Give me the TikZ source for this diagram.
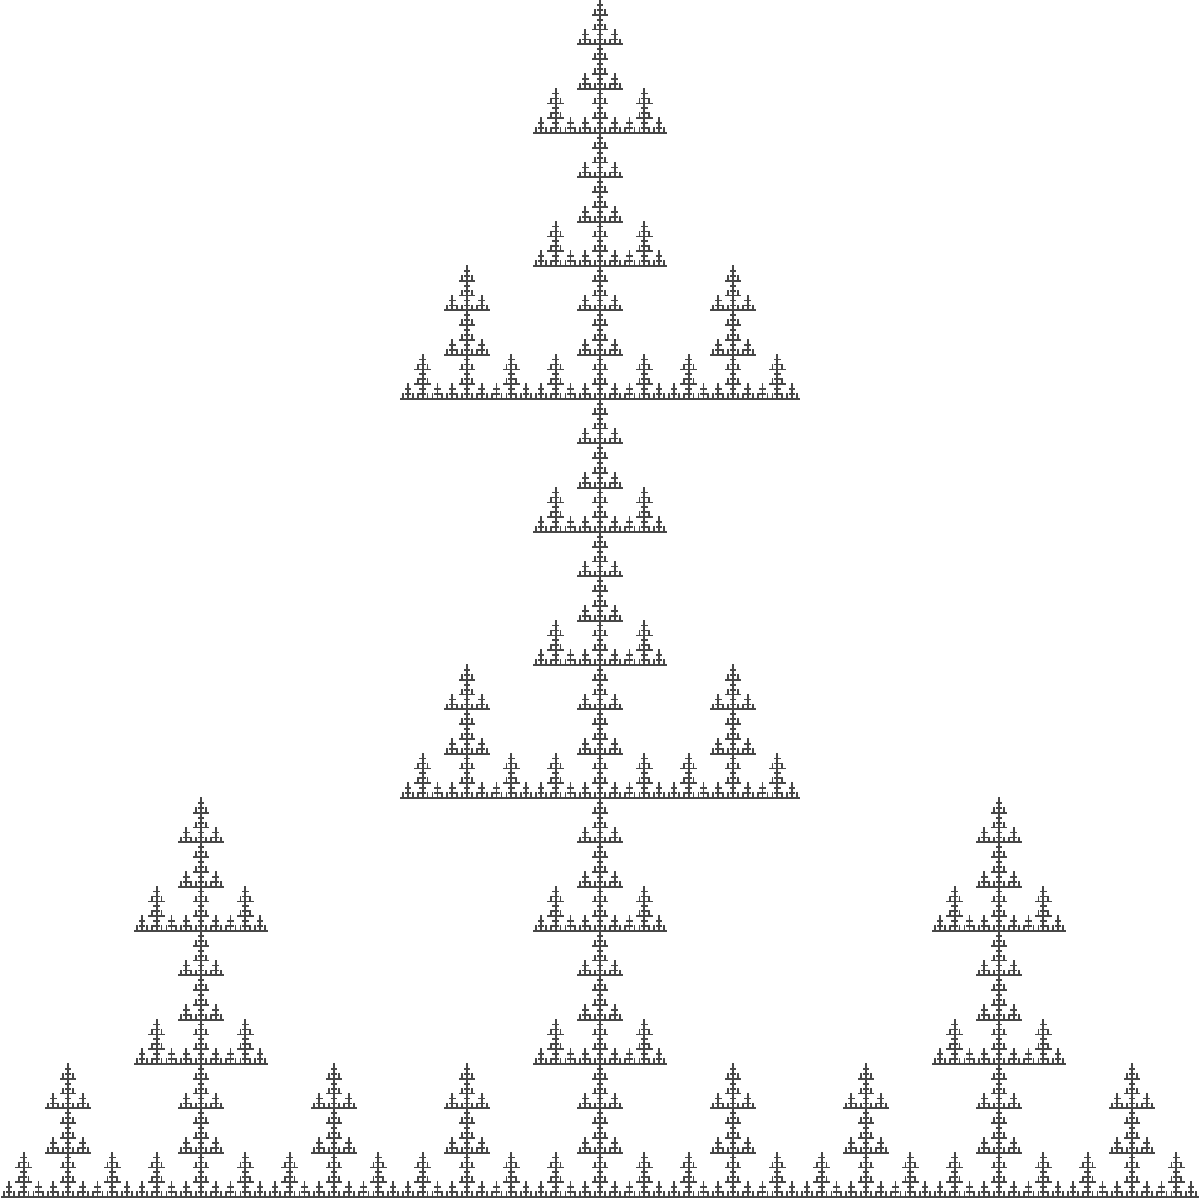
\documentclass[tikz,border=0pt]{standalone}
\usetikzlibrary{arrows}

\tikzset{branch/.style={draw=black!72, line width=0.5pt, line cap=rect}}

% one level of the tree: three copies on the base, two stacked in the middle
\newcommand\fractree[4]{%
  \begingroup
  \ifnum#1=0\relax
    \draw[branch] (#2-#4/2,#3) -- (#2+#4/2,#3) (#2,#3) -- (#2,#3+#4);
  \else
    \pgfmathsetmacro\sz{#4/3}%
    \pgfmathsetmacro\xl{#2-\sz}%
    \pgfmathsetmacro\xr{#2+\sz}%
    \pgfmathsetmacro\ym{#3+\sz}%
    \pgfmathsetmacro\yt{#3+2*\sz}%
    \pgfmathtruncatemacro\dd{#1-1}%
    \edef\calls{%
      \noexpand\fractree{\dd}{\xl}{#3}{\sz}%
      \noexpand\fractree{\dd}{#2}{#3}{\sz}%
      \noexpand\fractree{\dd}{\xr}{#3}{\sz}%
      \noexpand\fractree{\dd}{#2}{\ym}{\sz}%
      \noexpand\fractree{\dd}{#2}{\yt}{\sz}}%
    \calls
  \fi
  \endgroup}

\begin{document}
\begin{tikzpicture}
  \useasboundingbox (0,0) rectangle (12,12);
% whole tree, base on the bottom edge
  \fractree{5}{6}{0.03}{11.97}
\end{tikzpicture}
\end{document}
